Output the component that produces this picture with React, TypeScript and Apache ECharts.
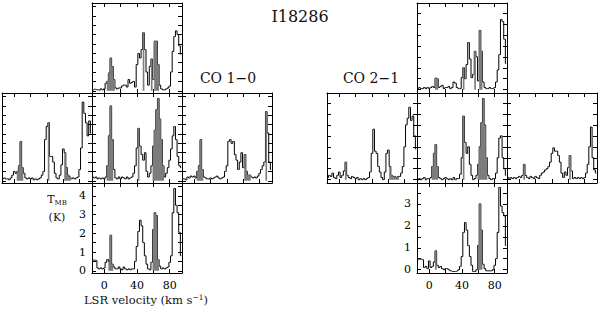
import React, { useEffect, useRef } from "react";
import * as echarts from "echarts";

// channel centres (km/s)
const VEL = [
  -14, -12, -10, -8, -6, -4, -2, 0, 2, 4,
  6, 8, 10, 12, 14, 16, 18, 20, 22, 24,
  26, 28, 30, 32, 34, 36, 38, 40, 42, 44,
  46, 48, 50, 52, 54, 56, 58, 60, 62, 64,
  66, 68, 70, 72, 74, 76, 78, 80, 82, 84,
  86, 88, 90, 92, 94,
];

// CO 1-0 spectra (T_MB, K)
const CO10_TOP = [
  0.05, 0.08, 0.06, 0.05, 0.03, 0.1, 0.05, 0.1, 0.4, 0.5,
  0.95, 1.75, 1.3, 0.6, 0.15, 0.1, 0.15, 0.15, 0.25, 0.3,
  0.3, 0.2, 0.6, 0.4, 0.45, 0.5, 0.2, 1.4, 2.0, 1.75,
  2.2, 3.1, 2.2, 1.0, 0.3, 1.3, 1.7, 0.6, 2.65, 2.65,
  1.4, 0.3, 0.1, 0.05, 0.05, 0.1, 0.15, 0.25, 1.0, 2.1,
  2.9, 3.2, 3.0, 2.4, 1.95,
];
const CO10_LEFT = [
  0.1, 0.15, 0.1, 0.1, 0.05, 0.15, 0.3, 0.5, 0.4, 0.5,
  0.8, 2.1, 0.7, 0.4, 0.15, 0.1, 0.15, 0.1, 0.15, 0.05,
  0.1, 0.05, 0.1, 0.15, 0.3, 0.5, 2.2, 2.9, 3.1, 1.3,
  1.3, 1.0, 0.4, 0.15, 0.1, 0.3, 0.85, 1.7, 1.5, 0.7,
  0.3, 0.2, 0.1, 0.15, 0.1, 0.15, 0.2, 0.6, 1.75, 4.2,
  3.6, 3.1, 2.4, 3.2, 2.55,
];
const CO10_CENTER = [
  0.2, 0.15, 0.2, 0.1, 0.15, 0.1, 0.15, 0.1, 0.2, 0.8,
  2.4, 4.0, 2.2, 0.6, 0.15, 0.1, 0.2, 0.1, 0.2, 0.15,
  0.1, 0.2, 0.1, 0.15, 0.2, 0.4, 0.8, 1.75, 2.8, 1.85,
  1.4, 1.1, 1.5, 0.5, 0.2, 0.4, 0.8, 1.85, 2.7, 3.8,
  4.4, 3.3, 2.2, 0.8, 0.2, 0.4, 0.7, 1.1, 1.7, 2.4,
  2.9, 2.2, 1.3, 0.8, 0.7,
];
const CO10_RIGHT = [
  0.1, 0.1, 0.05, 0.2, 0.15, 0.25, 0.2, 0.25, 0.15, 0.5,
  0.8, 2.2, 0.6, 0.2, 0.15, 0.1, 0.1, 0.15, 0.1, 0.15,
  0.2, 0.25, 0.15, 0.1, 0.15, 0.2, 0.5, 0.8, 2.1, 2.2,
  2.0, 2.1, 1.4, 1.1, 0.6, 1.0, 1.5, 0.7, 1.4, 0.5,
  0.3, 0.3, 0.2, 0.15, 0.2, 0.15, 0.25, 0.4, 0.6, 0.8,
  1.0, 3.7, 2.55, 1.0, 0.6,
];
const CO10_BOTTOM = [
  0.57, 0.57, 0.55, 0.15, 0.1, 0.15, 0.1, 0.15, 0.45, 0.6,
  0.5, 1.9, 0.35, 0.2, 0.1, 0.1, 0.2, 0.1, 0.05, 0.2,
  0.1, 0.05, 0.1, 0.05, 0.1, 0.1, 0.5, 1.3, 2.1, 2.7,
  2.4, 1.5, 0.8, 0.35, 0.1, 0.05, 0.45, 2.2, 3.1, 2.95,
  0.6, 0.25, 0.1, 0.15, 0.1, 0.15, 0.2, 0.45, 0.8, 3.1,
  4.4, 3.5, 3.1, 2.05, 0.8,
];

// CO 2-1 spectra (T_MB, K)
const CO21_TOP = [
  0.05, 0.1, 0.05, 0.05, 0.1, 0.05, 0.1, 0.05, 0.1, 0.15,
  0.1, 0.53, 0.5, 0.1, 0.15, 0.2, 0.05, 0.1, 0.1, 0.15,
  0.05, 0.1, 0.35, 0.3, 0.1, 0.05, 0.05, 0.55, 1.0, 0.5,
  1.15, 2.15, 1.4, 0.55, 0.7, 1.75, 1.5, 0.4, 2.7, 1.75,
  0.35, 0.1, 0.05, 0.05, 0.1, 0.05, 0.05, 0.1, 0.35, 0.9,
  1.6, 3.2, 3.1, 2.3, 1.2,
];
const CO21_LEFT = [
  0.1, 0.2, 0.15, 0.3, 0.1, 0.05, 0.2, 0.35, 0.1, 0.2,
  0.4, 0.8, 0.2, 0.1, 0.05, 0.15, 0.1, 0.05, 0.1, 0.0,
  0.05, 0.0, 0.05, 0.0, 0.05, 0.1, 0.35, 1.2, 2.3, 1.3,
  1.2, 0.6, 0.35, 0.1, 0.0, 0.35, 1.2, 1.35, 0.6, 0.2,
  0.15, 0.15, 0.1, 0.15, 0.15, 0.3, 0.6, 1.5, 2.5, 2.8,
  3.3, 2.7, 2.9, 2.0, 1.4,
];
const CO21_CENTER = [
  0.0, 0.05, 0.0, 0.05, 0.1, 0.0, 0.05, 0.05, 0.1, 0.6,
  1.2, 1.6, 0.6, 0.1, 0.05, 0.0, 0.05, 0.1, 0.05, 0.0,
  0.05, 0.0, 0.1, 0.0, 0.05, 0.05, 0.25, 1.0, 2.9, 1.7,
  1.2, 1.5, 0.7, 0.2, 0.0, 0.05, 0.2, 0.7, 1.5, 2.6,
  3.7, 2.5, 1.0, 0.2, 0.05, 0.0, 0.05, 0.05, 0.3, 1.0,
  1.9, 2.0, 1.0, 0.5, 0.2,
];
const CO21_RIGHT = [
  0.1, 0.05, 0.1, 0.05, 0.1, 0.05, 0.1, 0.15, 0.1, 0.2,
  0.7, 0.2, 0.1, 0.05, 0.15, 0.1, 0.05, 0.15, 0.1, 0.05,
  0.2, 0.3, 0.35, 0.45, 0.5, 0.6, 0.8, 1.2, 1.45, 1.3,
  1.3, 1.1, 0.8, 0.3, 0.1, 0.35, 0.2, 0.55, 1.1, 0.4,
  0.05, 0.1, 0.05, 0.1, 0.05, 0.1, 0.05, 0.1, 0.3, 0.7,
  1.5, 2.4, 1.0, 0.45, 0.3,
];
const CO21_BOTTOM = [
  0.48, 0.48, 0.48, 0.45, 0.1, 0.15, 0.05, 0.4, 0.1, 0.15,
  0.35, 0.86, 0.2, 0.1, 0.15, 0.05, 0.0, 0.05, 0.05, 0.0,
  -0.05, -0.08, -0.08, -0.08, -0.05, 0.0, 0.15, 0.6, 1.7, 2.15,
  1.8, 1.1, 0.6, 0.2, -0.08, -0.08, 0.0, 1.1, 3.0, 1.8,
  0.25, 0.05, -0.05, -0.05, -0.05, -0.05, 0.0, 0.2, 0.5, 1.7,
  3.75, 2.9, 2.6, 2.45, 1.1,
];

// shaded velocity windows (channel centres, inclusive)
const FILL_CO10_TOP = [[4, 12], [48, 48], [58, 58], [62, 66]];
const FILL_CO10_LEFT = [[4, 10], [42, 42], [62, 68]];
const FILL_CO10_CENTER = [[4, 10], [42, 42], [60, 72]];
const FILL_CO10_RIGHT = [[4, 10], [62, 68], [88, 88]];
const FILL_CO10_BOTTOM = [[6, 10], [60, 66]];
const FILL_CO21_TOP = [[8, 10], [42, 42], [56, 56], [62, 64]];
const FILL_CO21_LEFT = [[8, 8], [62, 72]];
const FILL_CO21_CENTER = [[4, 10], [42, 42], [60, 70]];
const FILL_CO21_RIGHT = [[6, 6], [62, 62]];
const FILL_CO21_BOTTOM = [[8, 8], [60, 64]];

// axes
const X_MIN = -15;
const X_MAX = 95;
const X_TICKS = [0, 20, 40, 60, 80];
const X_LABELS = [0, 40, 80];
const Y10_TICKS = [0, 0.5, 1, 1.5, 2, 2.5, 3, 3.5, 4, 4.5];
const Y10_LABELS = [0, 1, 2, 3, 4];
const Y21_TICKS = [0, 0.5, 1, 1.5, 2, 2.5, 3, 3.5];
const Y21_LABELS = [0, 1, 2, 3];

const FONT = "DejaVu Serif";
const GRAY = "#7c7c7c";

type Panel = {
  left: number;
  top: number;
  data: number[];
  fills: number[][];
  ymin: number;
  ymax: number;
  yTicks: number[];
  yLabels?: number[];
  xLabels?: boolean;
};

const W = 90;
const H = 90;

const PANELS: Panel[] = [
  { left: 92, top: 3, data: CO10_TOP, fills: FILL_CO10_TOP, ymin: -0.12, ymax: 4.69, yTicks: Y10_TICKS },
  { left: 2, top: 93, data: CO10_LEFT, fills: FILL_CO10_LEFT, ymin: -0.12, ymax: 4.69, yTicks: Y10_TICKS },
  { left: 92, top: 93, data: CO10_CENTER, fills: FILL_CO10_CENTER, ymin: -0.12, ymax: 4.69, yTicks: Y10_TICKS },
  { left: 182, top: 93, data: CO10_RIGHT, fills: FILL_CO10_RIGHT, ymin: -0.12, ymax: 4.69, yTicks: Y10_TICKS },
  { left: 92, top: 183, data: CO10_BOTTOM, fills: FILL_CO10_BOTTOM, ymin: -0.12, ymax: 4.69, yTicks: Y10_TICKS, yLabels: Y10_LABELS, xLabels: true },
  { left: 417, top: 3, data: CO21_TOP, fills: FILL_CO21_TOP, ymin: -0.15, ymax: 3.95, yTicks: Y21_TICKS },
  { left: 327, top: 93, data: CO21_LEFT, fills: FILL_CO21_LEFT, ymin: -0.15, ymax: 3.95, yTicks: Y21_TICKS },
  { left: 417, top: 93, data: CO21_CENTER, fills: FILL_CO21_CENTER, ymin: -0.15, ymax: 3.95, yTicks: Y21_TICKS },
  { left: 507, top: 93, data: CO21_RIGHT, fills: FILL_CO21_RIGHT, ymin: -0.15, ymax: 3.95, yTicks: Y21_TICKS },
  { left: 417, top: 183, data: CO21_BOTTOM, fills: FILL_CO21_BOTTOM, ymin: -0.15, ymax: 3.95, yTicks: Y21_TICKS, yLabels: Y21_LABELS, xLabels: true },
];

function inFill(v: number, fills: number[][]) {
  return fills.some(([a, b]) => v >= a && v <= b);
}

function buildOption() {
  const grid: any[] = [];
  const xAxis: any[] = [];
  const yAxis: any[] = [];
  const series: any[] = [];
  const line = { show: true, onZero: false, lineStyle: { color: "#000", width: 1 } };
  const labelStyle = { fontFamily: FONT, fontSize: 11, color: "#000" };

  PANELS.forEach((p, i) => {
    grid.push({ left: p.left, top: p.top, width: W, height: H });
    const xBase = {
      gridIndex: i, type: "value", min: X_MIN, max: X_MAX,
      axisLine: line, splitLine: { show: false },
      axisTick: { show: true, inside: true, length: 4, customValues: X_TICKS, lineStyle: { color: "#000" } },
    };
    xAxis.push({
      ...xBase, position: "bottom",
      axisLabel: p.xLabels ? { show: true, customValues: X_LABELS, margin: 7, ...labelStyle } : { show: false },
    });
    xAxis.push({ ...xBase, position: "top", axisLabel: { show: false } });
    const yBase = {
      gridIndex: i, type: "value", min: p.ymin, max: p.ymax,
      axisLine: line, splitLine: { show: false },
      axisTick: { show: true, inside: true, length: 4, customValues: p.yTicks, lineStyle: { color: "#000" } },
    };
    yAxis.push({
      ...yBase, position: "left",
      axisLabel: p.yLabels ? { show: true, customValues: p.yLabels, margin: 6, ...labelStyle } : { show: false },
    });
    yAxis.push({ ...yBase, position: "right", axisLabel: { show: false } });

    series.push({
      type: "line", xAxisIndex: 2 * i, yAxisIndex: 2 * i,
      data: VEL.map((v, k) => [v, p.data[k]]),
      step: "middle", symbol: "none", silent: true,
      lineStyle: { color: "#000", width: 1 }, z: 3,
    });
    series.push({
      type: "line", xAxisIndex: 2 * i, yAxisIndex: 2 * i,
      data: VEL.map((v, k) => [v, inFill(v, p.fills) ? p.data[k] : 0]),
      step: "middle", symbol: "none", silent: true,
      lineStyle: { width: 0, opacity: 0 },
      areaStyle: { color: GRAY, opacity: 1 }, z: 4,
    });
  });

  const graphic = [
    { type: "text", x: 300, y: 16, style: { text: "I18286", font: `16px "${FONT}"`, fill: "#111", align: "center", verticalAlign: "middle" } },
    { type: "text", x: 228, y: 78, style: { text: "CO 1−0", font: `14px "${FONT}"`, fill: "#111", align: "center", verticalAlign: "middle" } },
    { type: "text", x: 371, y: 78, style: { text: "CO 2−1", font: `14px "${FONT}"`, fill: "#111", align: "center", verticalAlign: "middle" } },
    {
      type: "text", x: 57, y: 199,
      style: {
        text: "{t|T}{s|MB}", align: "center", verticalAlign: "middle",
        rich: {
          t: { fontFamily: FONT, fontSize: 11, fill: "#111", lineHeight: 14 },
          s: { fontFamily: FONT, fontSize: 7, fill: "#111", verticalAlign: "bottom", lineHeight: 10 },
        },
      },
    },
    { type: "text", x: 57, y: 217, style: { text: "(K)", font: `11px "${FONT}"`, fill: "#111", align: "center", verticalAlign: "middle" } },
    {
      type: "text", x: 146, y: 300,
      style: {
        text: "{a|LSR velocity (km s}{b|−1}{a|)}", align: "center", verticalAlign: "middle",
        rich: {
          a: { fontFamily: FONT, fontSize: 11.5, fill: "#111", lineHeight: 14 },
          b: { fontFamily: FONT, fontSize: 7.5, fill: "#111", verticalAlign: "top", lineHeight: 8 },
        },
      },
    },
  ];

  return { animation: false, backgroundColor: "#fff", grid, xAxis, yAxis, series, graphic };
}

export default function App() {
  const ref = useRef<HTMLDivElement>(null);
  useEffect(() => {
    if (!ref.current) return;
    const chart = echarts.init(ref.current, null, { renderer: "svg" });
    chart.setOption(buildOption() as any);
    return () => chart.dispose();
  }, []);
  return (
    <div
      ref={ref}
      style={{ position: "fixed", left: 0, top: 0, width: 600, height: 310, background: "#fff" }}
    />
  );
}
